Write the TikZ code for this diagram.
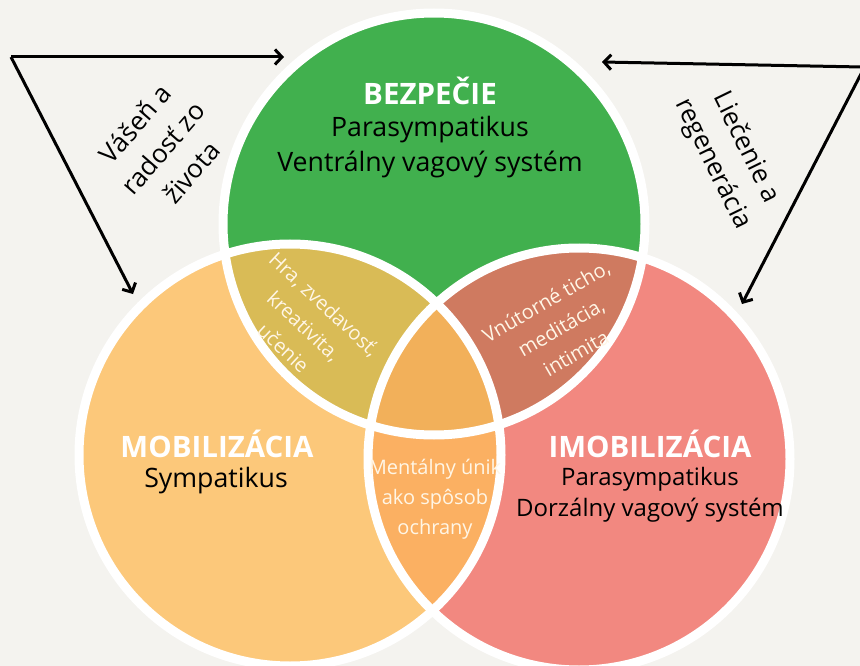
\documentclass[tikz,border=0pt]{standalone}
\usepackage{fontspec}
\setmainfont{Open Sans}
\usetikzlibrary{arrows.meta}
\definecolor{bgc}{HTML}{F4F3EF}
\definecolor{cG}{HTML}{41B04E}
\definecolor{cO}{HTML}{FCC87A}
\definecolor{cR}{HTML}{F28880}
\definecolor{cGO}{HTML}{D9BB56}
\definecolor{cGR}{HTML}{CF7A60}
\definecolor{cOR}{HTML}{FBB062}
\definecolor{cC}{HTML}{F2B05A}
\definecolor{lenstxt}{HTML}{FFF6E6}
\tikzset{
  ring/.style={draw=white, line width=9pt},
  arr/.style={line width=3pt, -{Straight Barb[length=7pt,width=15pt,line width=3pt]}},
  title/.style={font=\fontsize{29.5}{34}\selectfont\bfseries, text=white},
  sub/.style={font=\fontsize{26.7}{35}\selectfont, text=black, align=center},
  subr/.style={font=\fontsize{24}{31}\selectfont, text=black, align=center},
  lens/.style={font=\fontsize{20}{30}\selectfont, text=lenstxt, align=center},
  side/.style={font=\fontsize{26}{37}\selectfont, text=black, align=center},
}
\begin{document}
\begin{tikzpicture}[x=1pt,y=-1pt]
\fill[bgc] (0,0) rectangle (860,666);
\useasboundingbox (0,0) rectangle (860,666);
\coordinate (G) at (434,224);
\coordinate (O) at (290,455);
\coordinate (R) at (579,459);
\def\rr{211pt}
\fill[cG] (G) circle[radius=\rr];
\fill[cO] (O) circle[radius=\rr];
\fill[cR] (R) circle[radius=\rr];
\begin{scope}
  \clip (G) circle[radius=\rr];
  \fill[cGO] (O) circle[radius=\rr];
  \fill[cGR] (R) circle[radius=\rr];
\end{scope}
\begin{scope}
  \clip (O) circle[radius=\rr];
  \fill[cOR] (R) circle[radius=\rr];
\end{scope}
\begin{scope}
  \clip (G) circle[radius=\rr];
  \clip (O) circle[radius=\rr];
  \fill[cC] (R) circle[radius=\rr];
\end{scope}
\draw[ring] (G) circle[radius=\rr];
\draw[ring] (O) circle[radius=\rr];
\draw[ring] (R) circle[radius=\rr];

% texts
\node[title] (tG) at (430,91) {BEZPEČIE};
\node[sub] (sG) at (430,147) {Parasympatikus\\Ventrálny vagový systém};
\node[title] (tO) at (217,444) {MOBILIZÁCIA};
\node[sub] (sO) at (216,481) {Sympatikus};
\node[title] (tR) at (650,444) {IMOBILIZÁCIA};
\node[subr] (sR) at (650,495) {Parasympatikus\\Dorzálny vagový systém};

\node[lens, rotate=-43] (lGO) at (304,326) {Hra, zvedavosť,\\kreativita,\\učenie};
\node[lens, rotate=30] (lGR) at (561,327) {Vnútorné ticho,\\meditácia,\\intimita};
\node[lens] (lOR) at (435,499) {Mentálny únik\\ako spôsob\\ochrany};

% arrows
\coordinate (L0) at (11,57);
\coordinate (L1) at (284,57);
\coordinate (L2) at (133,294);
\draw[arr] (L0) -- (L1);
\draw[arr] (L0) -- (L2);
\coordinate (R0) at (862,67);
\coordinate (R1) at (602,62);
\coordinate (R2) at (742,304);
\draw[arr] (R0) -- (R1);
\draw[arr] (862,72) -- (R2);
\node[side, rotate=49] (vL) at (163,148) {Vášeň a\\radosť zo\\života};
\node[side, rotate=-64] (vR) at (729,156) {Liečenie a\\regenerácia};
\end{tikzpicture}
\end{document}
